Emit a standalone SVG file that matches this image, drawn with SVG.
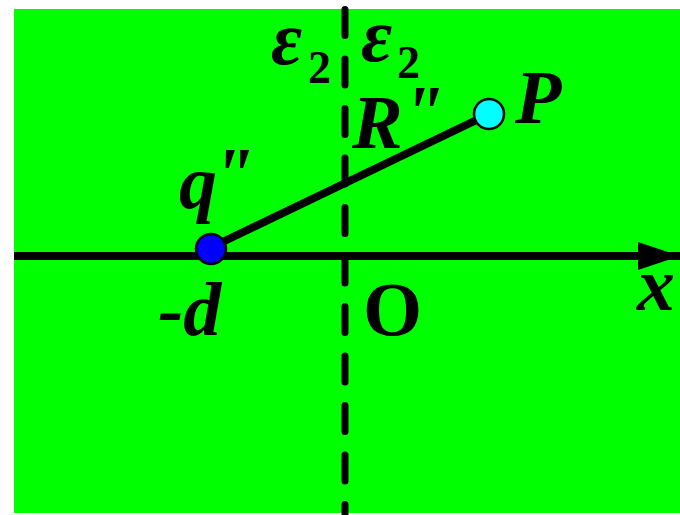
<svg xmlns="http://www.w3.org/2000/svg" width="680" height="515" viewBox="0 0 680 515">
<defs>
<style>
.lbl{font-family:"Liberation Serif","Times New Roman",serif;font-weight:bold;font-style:italic;font-size:76px;fill:#000}
.sub{font-family:"Liberation Serif","Times New Roman",serif;font-weight:bold;font-size:46px;fill:#000}
.up{font-family:"Liberation Serif","Times New Roman",serif;font-weight:bold;font-size:76px;fill:#000}
.ln{stroke:#000;stroke-width:8;fill:none}
.pt{stroke:#000;stroke-width:2.5}
</style>
<marker id="arr" markerUnits="userSpaceOnUse" markerWidth="44" markerHeight="30" refX="42" refY="15" orient="auto">
<path d="M0,1 L42,15 L0,29 Z" fill="#000"/>
</marker>
</defs>
<rect x="14" y="9" width="666" height="504" fill="#00FF00"/>
<g id="connectors">
<line x1="345" y1="9.5" x2="345" y2="515" stroke="#000" stroke-width="7" stroke-linecap="round" stroke-dasharray="26 23.5"/>
<line class="ln" x1="14" y1="256" x2="680" y2="256" marker-end="url(#arr)"/>
<line class="ln" x1="210" y1="248" x2="489" y2="114"/>
</g>
<g id="q"><circle class="pt" cx="211" cy="249" r="15" fill="#0000FF"/><text class="lbl" x="179" y="208">q</text><text class="lbl" x="212" y="200">"</text></g>
<g id="P"><circle class="pt" cx="489" cy="114" r="15" fill="#00FFFF"/><text class="lbl" x="515" y="123">P</text></g>
<g id="labels">
<text class="lbl" x="271" y="64">ε</text><text class="sub" x="308" y="83">2</text>
<text class="lbl" x="361" y="61">ε</text><text class="sub" x="397" y="78">2</text>
<text class="lbl" x="352" y="148">R</text><text class="lbl" x="402" y="138">"</text>
<text class="lbl" x="158" y="335">-d</text>
<text class="up" x="363" y="335">O</text>
<text class="lbl" x="637" y="310">x</text>
</g>
</svg>
